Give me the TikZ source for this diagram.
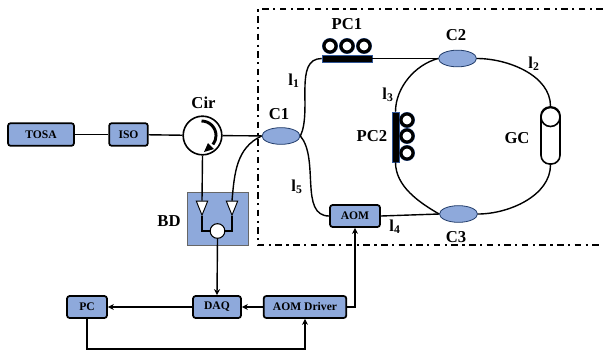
\documentclass[tikz,border=0pt]{standalone}
\usepackage{fontspec}
\setmainfont{Liberation Serif}
\usetikzlibrary{arrows.meta, positioning, shapes.geometric, calc}
\definecolor{cblue}{HTML}{8EA9DB}
\definecolor{cedge}{HTML}{2F5597}
\tikzset{
  every picture/.style={font=\bfseries, line width=1.05pt},
  box/.style={draw=black, fill=cblue, rounded corners=2pt, align=center, inner sep=0pt, line width=1.3pt, font=\fontsize{8.7}{10}\selectfont\bfseries},
  coupler/.style={ellipse, draw=cedge!70!black, fill=cblue, inner sep=0pt, line width=0.6pt, minimum width=28.5pt, minimum height=12.5pt},
  arrow/.style={-{Stealth[length=4.5pt, width=4.5pt]}},
  fiber/.style={line width=1.05pt},
  paddle/.style={circle, draw=black, fill=white, inner sep=0pt, minimum size=9pt, line width=2.3pt, preaction={draw=cedge, line width=2.9pt}},
  padbar/.style={draw=cedge, fill=black, inner sep=0pt, line width=0.4pt},
  det/.style={isosceles triangle, isosceles triangle apex angle=46, isosceles triangle stretches, shape border rotate=-90, draw=black, fill=white, inner sep=0pt, minimum height=10.5pt, minimum width=8.5pt, line width=0.7pt},
  title/.style={font=\fontsize{12.5}{14}\selectfont\bfseries},
  frame/.style={line width=1.05pt, dash pattern=on 5pt off 3.3pt on 1.6pt off 3.3pt},
}
\begin{document}
\begin{tikzpicture}[x=0.75pt, y=-0.75pt]
  \useasboundingbox (0,0) rectangle (603,351);
  % dashed frame
  \draw[frame] (603,9) -- (258,9) -- (258,245) -- (603,245);
  % source line
  \node[box, minimum width=49.5pt, minimum height=17pt] (tosa) at (41,134.5) {TOSA};
  \node[box, minimum width=29pt, minimum height=17pt] (iso) at (128.5,134.5) {ISO};
  \node[circle, draw=black, fill=white, line width=1.2pt, inner sep=0pt, minimum size=29pt] (cir) at (202.5,135.5) {};
  \draw[line width=2.2pt] ($(cir)+(-1,-14.5)$) arc[start angle=90, end angle=-38, radius=10.9pt];
  \fill ($(cir)+(5.5,7.5)$) -- ++(6,6) -- ++(-10,3) -- cycle;
  \node[title] (cirlabel) at (203.5,103) {Cir};
  \node[coupler] (c1) at (281,136) {};
  \node[title] (c1label) at (279,114) {C1};
  % balanced detector
  \node[fill=cblue, draw=black!60, line width=0.5pt, minimum width=46pt, minimum height=40pt, inner sep=0pt] (bd) at (217.5,218.5) {};
  \node[title] (bdlabel) at (169,221) {BD};
  \node[det] (tri1) at (202,205) {};
  \node[det] (tri2) at (232,205) {};
  \node[circle, draw=black, fill=white, inner sep=0pt, minimum size=11pt, line width=0.8pt] (pd) at (217.5,231) {};
  % loop part
  \node[padbar, minimum width=37.5pt, minimum height=5pt] (pc1) at (347,58.5) {};
  \foreach \n/\x in {a/330, b/347, c/364} {
    \node[paddle] (pc1\n) at (\x,46) {};
  }
  \node[title] (pc1label) at (347,24) {PC1};
  \node[coupler] (c2) at (457.5,58.5) {};
  \node[title] (c2label) at (456,35) {C2};
  \node[padbar, minimum width=5pt, minimum height=37.5pt] (pc2) at (395.5,137) {};
  \foreach \n/\y in {a/120, b/136, c/153} {
    \node[paddle] (pc2\n) at (407,\y) {};
  }
  \node[title] (pc2label) at (372,136) {PC2};
  \node[draw=black, fill=white, line width=1.2pt, rounded corners=6.5pt, inner sep=0pt, minimum width=14.25pt, minimum height=42.75pt] (gc) at (550.5,135.5) {};
  \node[circle, draw=black, fill=white, line width=1.2pt, inner sep=0pt, minimum size=14.25pt] (gccap) at (550.5,117) {};
  \node[title] (gclabel) at (517,138) {GC};
  \node[coupler] (c3) at (458.5,214) {};
  \node[title] (c3label) at (456,237) {C3};
  \node[box, minimum width=37.5pt, minimum height=16.5pt] (aom) at (355,216) {AOM};
  % electronics
  \node[box, minimum width=30pt, minimum height=16.5pt] (pc) at (87,307) {PC};
  \node[box, minimum width=36pt, minimum height=16.5pt] (daq) at (217,307) {DAQ};
  \node[box, minimum width=62pt, minimum height=16.5pt] (driver) at (305,307) {AOM Driver};
  % fibre lengths
  \node[title] (l1) at (294,81) {l\textsubscript{1}};
  \node[title] (l2) at (534,64) {l\textsubscript{2}};
  \node[title] (l3) at (388,95) {l\textsubscript{3}};
  \node[title] (l4) at (395,227) {l\textsubscript{4}};
  \node[title] (l5) at (297,187) {l\textsubscript{5}};
  % connectors
  \draw[fiber] (tosa) -- (iso);
  \draw[fiber] (iso) -- (cir);
  \draw[fiber] (cir) -- (c1);
  \draw[fiber] (cir.south) -- (tri1.north);
  \draw[fiber] (c1.west) to[out=205, in=85] (tri2.north);
  \draw[fiber] (tri1.south) |- (pd.west);
  \draw[fiber] (tri2.south) |- (pd.east);
  \draw[fiber] (c1.east) to[out=65, in=180, looseness=0.9] (pc1.west);
  \draw[fiber] (c1.east) to[out=-50, in=180, looseness=0.9] (aom.west);
  \draw[fiber] (pc1.east) -- (c2.west);
  \draw[fiber] (c2.east) to[out=0, in=90, looseness=0.9] (gc.north);
  \draw[fiber] (c2.west) to[out=195, in=90, looseness=0.9] (pc2.north);
  \draw[fiber] (pc2.south) to[out=-90, in=150, looseness=0.9] (c3.west);
  \draw[fiber] (gc.south) to[out=-90, in=0, looseness=0.9] (c3.east);
  \draw[fiber] (aom.east) -- (c3.west);
  \draw[arrow] (pd.south) -- (daq.north);
  \draw[arrow] (daq.west) -- (pc.east);
  \draw[arrow] (driver.west) -- (daq.east);
  \draw[arrow] (driver.east) -| (aom.south);
  \draw[arrow] (pc.south) -- ++(0,30) -| (driver.south);
\end{tikzpicture}
\end{document}
